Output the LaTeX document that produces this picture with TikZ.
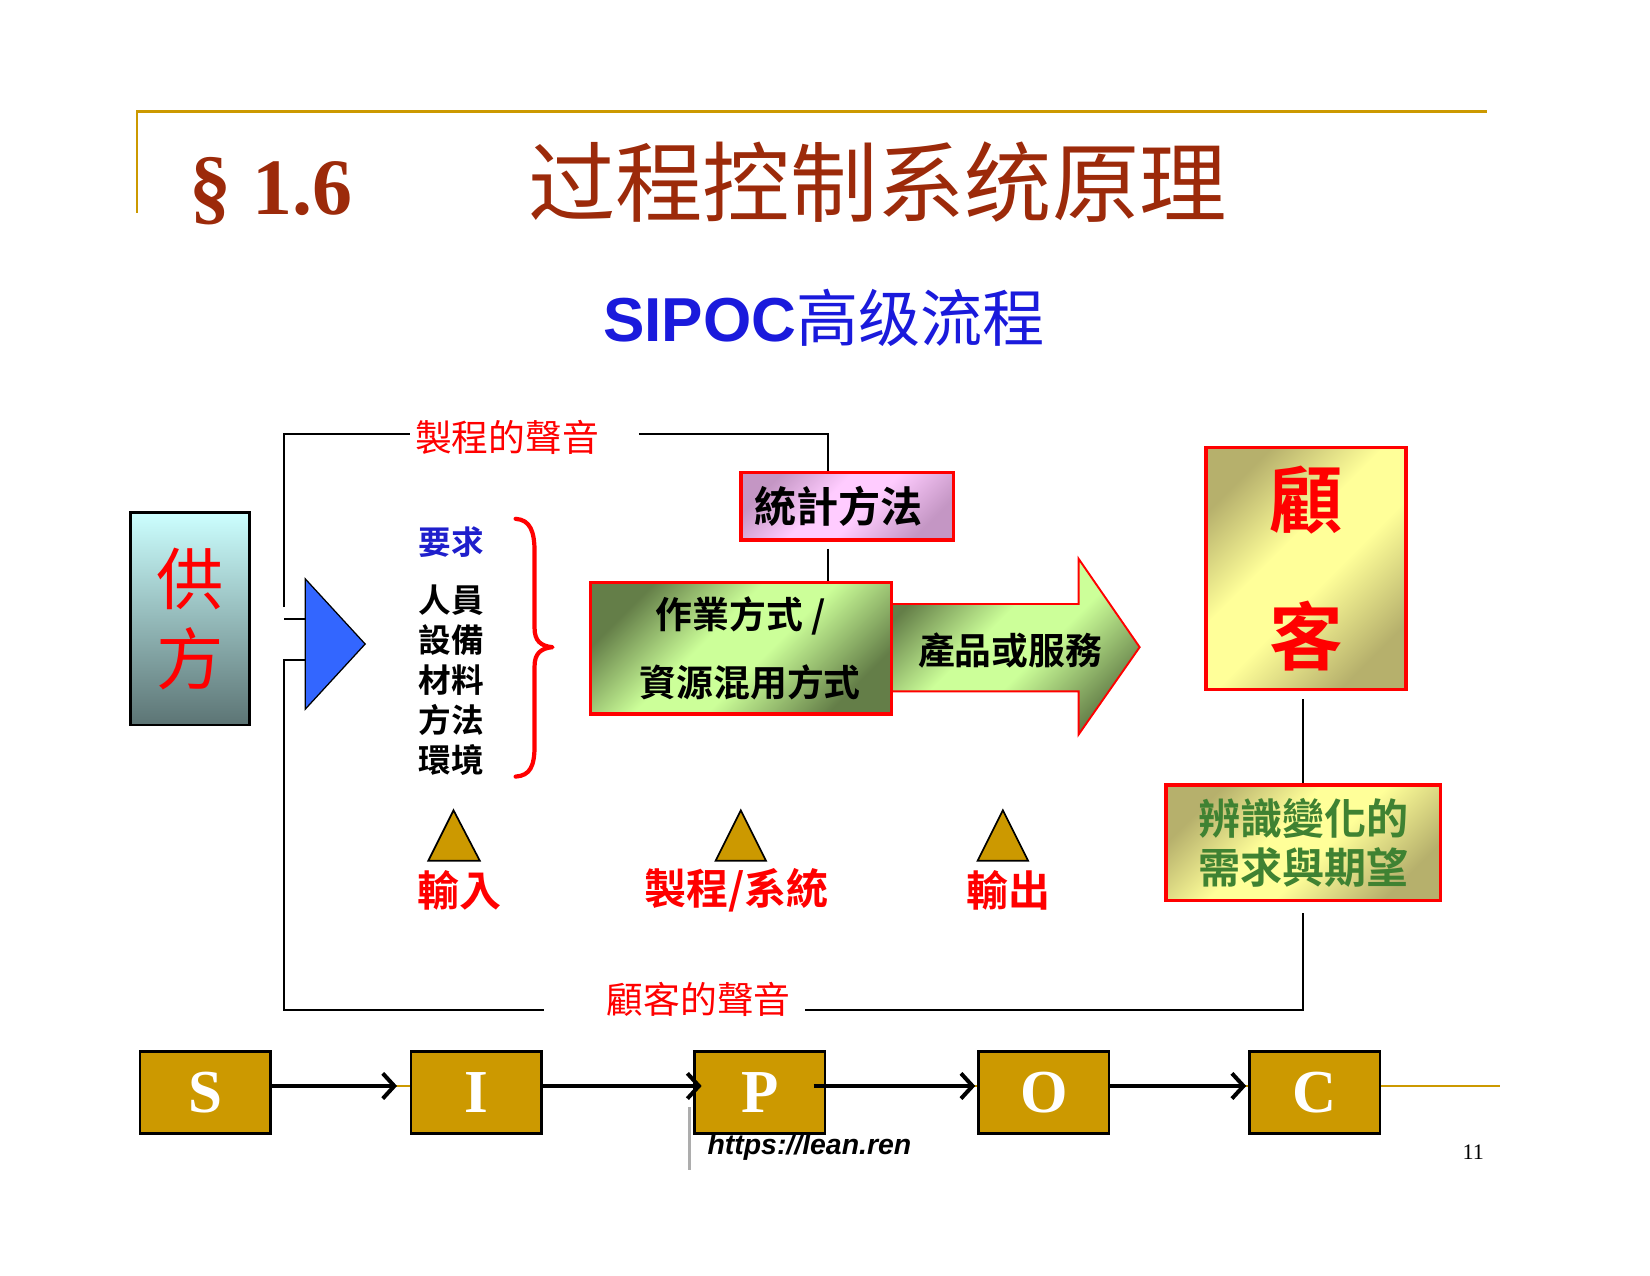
\documentclass[tikz,border=0pt]{standalone}
\usepackage{fontspec}
\setmainfont{Liberation Serif}
\newfontfamily\cjksc{Noto Sans CJK SC}[BoldFont={Noto Sans CJK SC Bold}]
\newfontfamily\cjktc{Noto Sans CJK TC}[BoldFont={Noto Sans CJK TC Bold}]
\newfontfamily\arialf{Liberation Sans}
\usetikzlibrary{arrows.meta}
\definecolor{gold}{HTML}{CC9900}
\definecolor{titlered}{HTML}{9C2A0A}
\definecolor{sipocblue}{HTML}{1A1ADC}
\definecolor{reqblue}{HTML}{1F1FCC}
\definecolor{tblue}{HTML}{3366FF}
\definecolor{gdark}{HTML}{647E48}
\definecolor{glight}{HTML}{CCFF99}
\definecolor{pdark}{HTML}{C496C4}
\definecolor{plight}{HTML}{FFCCFF}
\definecolor{ydark}{HTML}{B6B06C}
\definecolor{ylight}{HTML}{FFFF99}
\definecolor{ctop}{HTML}{CCFFFF}
\definecolor{cbot}{HTML}{5C7474}
\definecolor{vgreen}{HTML}{3F8232}
\definecolor{pure}{HTML}{FF0000}
\pgfdeclareverticalshading{greendiag}{100bp}{color(0bp)=(gdark); color(25bp)=(gdark); color(45bp)=(glight); color(57bp)=(glight); color(75bp)=(gdark); color(100bp)=(gdark)}
\pgfdeclareverticalshading{pinkdiag}{100bp}{color(0bp)=(pdark); color(25bp)=(pdark); color(45bp)=(plight); color(57bp)=(plight); color(75bp)=(pdark); color(100bp)=(pdark)}
\pgfdeclareverticalshading{yellowdiag}{100bp}{color(0bp)=(ydark); color(25bp)=(ydark); color(45bp)=(ylight); color(57bp)=(ylight); color(75bp)=(ydark); color(100bp)=(ydark)}
\begin{document}
\begin{tikzpicture}[x=0.5pt,y=-0.5pt,
  conn/.style={draw=black, line width=1pt},
  framel/.style={draw=gold, line width=1.2pt},
  redbox/.style={draw=pure, line width=1.6pt, inner sep=0pt, shade, shading angle=45},
  goldtri/.style={fill=gold, draw=black, line width=0.8pt, line join=miter},
  redlab/.style={text=pure, inner sep=0pt, font=\cjktc\bfseries\fontsize{20}{20}\selectfont},
  voice/.style={text=pure, inner sep=0pt, font=\cjktc\fontsize{17.5}{17.5}\selectfont},
  sipocbox/.style={fill=gold, draw=black, line width=1.2pt, minimum width=62pt, minimum height=39pt, inner sep=0pt, text=white, font=\bfseries\fontsize{29}{29}\selectfont},
  sarrow/.style={draw=black, line width=1.9pt, -{Straight Barb[length=5.5pt,width=12pt]}}]
\fill[white] (0,0) rectangle (1568,1212);
\useasboundingbox (0,0) rectangle (1568,1212);

% title frame
\coordinate (f0) at (130,202);
\coordinate (f1) at (130,106);
\coordinate (f2) at (1413,106);
\draw[framel] (f0) -- (f1) -- (f2);
\node[anchor=base west, inner sep=0pt, text=titlered, font=\bfseries\fontsize{40}{40}\selectfont] (sec) at (180,204) {§};
\node[anchor=base west, inner sep=0pt, text=titlered, font=\bfseries\fontsize{38}{38}\selectfont] (num) at (240,204) {1.6};
\node[inner sep=0pt, text=titlered, font=\cjksc\fontsize{41.5}{41.5}\selectfont] (title) at (834,173) {过程控制系统原理};
\node[inner sep=0pt, text=sipocblue] (sub) at (783,302) {{\arialf\bfseries\fontsize{29.5}{29.5}\selectfont SIPOC}{\cjksc\fontsize{29.5}{29.5}\selectfont 高级流程}};

% supplier
\node[draw=black, line width=1.2pt, top color=ctop, bottom color=cbot, minimum width=56.5pt, minimum height=101pt, inner sep=0pt, align=center, text=pure, font=\cjktc\fontsize{32}{38}\selectfont] (sup) at (180.5,588) {供\\方};

% blue triangle
\coordinate (ta) at (290,550);
\coordinate (tb) at (290,674);
\coordinate (tc) at (347,612);
\draw[fill=tblue, draw=black, line width=0.6pt] (ta) -- (tc) -- (tb) -- cycle;

% voice of process
\node[voice] (vp) at (482,416) {製程的聲音};
\coordinate (v0) at (270,577);
\coordinate (a1) at (390,412);
\coordinate (p1) at (607,412);
\coordinate (sx) at (787,412);
\draw[conn] (v0) |- (a1);

% statistics box
\node[redbox, shading=pinkdiag, minimum width=101pt, minimum height=32pt, font=\cjktc\bfseries\fontsize{20}{20}\selectfont] (stat) at (805,481) {統計方法\hspace*{8pt}};
\draw[conn] (p1) -- (sx) -- (stat.north -| sx);

% inputs list
\node[inner sep=0pt, text=reqblue, font=\cjktc\bfseries\fontsize{15.5}{15.5}\selectfont] (req) at (429,515) {要求};
\node[inner sep=0pt, align=left, font=\cjktc\bfseries\fontsize{15.5}{19}\selectfont] (list) at (429,646) {人員\\設備\\材料\\方法\\環境};

% brace
\draw[pure, line width=2pt, line join=round, line cap=round] (490,493) .. controls (504,494) and (508,505) .. (508,525) -- (508,597) .. controls (508,609) and (514,614) .. (525,615) .. controls (514,616) and (508,621) .. (508,633) -- (508,708) .. controls (508,728) and (504,737) .. (490,738);

% big arrow
\path[shade, shading=greendiag, shading angle=45, draw=pure, line width=0.9pt] (847,574) -- (1025,574) -- (1025,531) -- (1083,615) -- (1025,698) -- (1025,657) -- (847,657) -- cycle;
\node[inner sep=0pt, font=\cjktc\bfseries\fontsize{17.5}{17.5}\selectfont] (prod) at (960,618) {產品或服務};

% work box
\node[redbox, shading=greendiag, minimum width=143pt, minimum height=62.5pt, align=center, font=\cjktc\bfseries\fontsize{17.5}{32.5}\selectfont] (work) at (704,616) {作業方式 /\\\hspace*{9pt}資源混用方式};
\draw[conn, shorten <=3.5pt] (stat.south -| sx) -- (work.north -| sx);

% customer
\node[redbox, shading=yellowdiag, minimum width=95pt, minimum height=115pt, align=center, text=pure, font=\cjktc\bfseries\fontsize{35}{65}\selectfont] (cust) at (1241,540) {顧\\客};
\node[redbox, shading=yellowdiag, minimum width=130.5pt, minimum height=55pt, align=center, text=vgreen, font=\cjktc\bfseries\fontsize{20}{23.5}\selectfont] (need) at (1238.5,801) {辨識變化的\\需求與期望};
\draw[conn, shorten <=4pt] (cust.south -| need.north) -- (need.north);

% stubs and voice of customer
\coordinate (st1) at (270,588);
\coordinate (st2) at (270,627);
\coordinate (b1) at (517,960);
\coordinate (q1) at (765,960);
\draw[conn] (st1) -- (st1 -| ta);
\draw[conn] (st2 -| ta) -- (st2) |- (b1);
\node[voice] (vc) at (664,950) {顧客的聲音};
\draw[conn, shorten >=5pt] (q1) -| (need.south);

% triangles
\draw[goldtri] (431,770) -- (456,818) -- (407,818) -- cycle;
\draw[goldtri] (704,770) -- (728,818) -- (680,818) -- cycle;
\draw[goldtri] (953,770) -- (977,818) -- (929,818) -- cycle;
\node[redlab] (lin) at (436.5,846) {輸入};
\node[redlab] (lproc) at (700,846) {製程/系統};
\node[redlab] (lout) at (958,846) {輸出};

% SIPOC chain
\coordinate (gend) at (1425,1032);
\draw[framel] (195,1032) -- (gend);
\node[sipocbox] (S) at (195,1038) {S};
\node[sipocbox] (I) at (452.5,1038) {I};
\node[sipocbox] (P) at (722,1038) {P};
\node[sipocbox] (O) at (992,1038) {O};
\node[sipocbox] (C) at (1249.5,1038) {C};
\draw[sarrow] ([yshift=3pt]S.east) -- ([yshift=3pt,xshift=-6pt]I.west);
\draw[sarrow] ([yshift=3pt]I.east) -- ([yshift=3pt,xshift=4pt]P.west);
\draw[sarrow] ([yshift=3pt,xshift=-6pt]P.east) -- ([yshift=3pt,xshift=-1pt]O.west);
\draw[sarrow] ([yshift=3pt]O.east) -- ([yshift=3pt,xshift=-1pt]C.west);

% footer
\coordinate (g0) at (655,1052);
\coordinate (g1) at (655,1112);
\draw[black!32, line width=1.6pt] (g0) -- (g1);
\node[anchor=west, inner sep=0pt, font=\arialf\bfseries\itshape\fontsize{13.5}{13.5}\selectfont] (url) at (672,1090) {https://lean.ren};
\node[inner sep=0pt, font=\fontsize{10.5}{10.5}\selectfont] (pg) at (1400,1095) {11};
\end{tikzpicture}
\end{document}
